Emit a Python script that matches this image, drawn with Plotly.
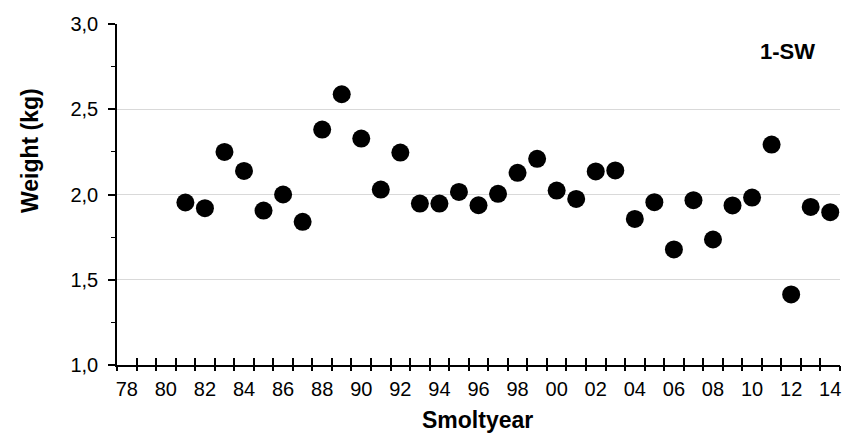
import plotly.graph_objects as go

years = list(range(1981, 2015))
weights = [1.953, 1.92, 2.25, 2.138, 1.906, 2.00, 1.84, 2.381, 2.588, 2.328, 2.029, 2.246,
           1.947, 1.947, 2.015, 1.937, 2.004, 2.127, 2.209, 2.023, 1.974, 2.135, 2.141,
           1.857, 1.955, 1.678, 1.967, 1.736, 1.936, 1.982, 2.293, 1.414, 1.927, 1.896]
label_years = list(range(1978, 2015, 2))
label_text = ["%02d" % (y % 100) for y in label_years]
boundaries = [y - 0.5 for y in range(1978, 2016)]

FONT = "Liberation Sans, Arial, sans-serif"
xr = [1977.5, 2014.5]

fig = go.Figure()
fig.add_trace(go.Scatter(x=years, y=weights, mode="markers",
                         marker=dict(color="black", size=18, line=dict(width=0)),
                         showlegend=False, hoverinfo="x+y"))
fig.add_trace(go.Scatter(x=[None], y=[None], xaxis="x2", yaxis="y", showlegend=False))
fig.add_trace(go.Scatter(x=[None], y=[None], xaxis="x3", yaxis="y", showlegend=False))

# page body has an 8px default margin, so the figure is 8px smaller than the window
fig.update_layout(
    width=843, height=425,
    margin=dict(l=109, r=11, t=16, b=68, autoexpand=False),
    paper_bgcolor="white", plot_bgcolor="white",
    separators=",.",
    font=dict(family=FONT, size=20, color="black"),
    xaxis=dict(range=xr, tickmode="array", tickvals=label_years, ticktext=label_text,
               ticks="", showgrid=False, zeroline=False, showline=True,
               linecolor="black", linewidth=2, ticklabelstandoff=5,
               tickfont=dict(size=20, family=FONT)),
    xaxis2=dict(range=xr, overlaying="x", anchor="y", side="bottom",
                tickmode="array", tickvals=boundaries, ticks="outside", ticklen=5,
                tickwidth=1.5, tickcolor="black", showticklabels=False,
                showgrid=False, zeroline=False, showline=False),
    xaxis3=dict(range=xr, overlaying="x", anchor="y", side="bottom",
                tickmode="array", tickvals=boundaries, ticks="inside", ticklen=7,
                tickwidth=1.5, tickcolor="black", showticklabels=False,
                showgrid=False, zeroline=False, showline=False),
    yaxis=dict(range=[1, 3], tick0=1, dtick=0.5, tickformat=".1f",
               ticks="outside", ticklen=7, tickwidth=1.5, tickcolor="black",
               showgrid=True, gridcolor="#d9d9d9", gridwidth=1, zeroline=False,
               showline=True, linecolor="black", linewidth=1.5,
               ticklabelstandoff=6,
               minor=dict(dtick=0.25, ticks="outside", ticklen=4, tickwidth=1.2,
                          tickcolor="black", showgrid=False),
               tickfont=dict(size=20, family=FONT)),
    annotations=[
        dict(text="<b>1-SW</b>", xref="paper", yref="paper", x=0.927, y=0.918,
             xanchor="center", yanchor="middle", showarrow=False,
             font=dict(size=22, family=FONT, color="black")),
        dict(text="<b>Weight (kg)</b>", xref="paper", yref="paper", x=-0.120, y=0.628,
             xanchor="center", yanchor="middle", showarrow=False, textangle=-90,
             font=dict(size=23, family=FONT, color="black")),
        dict(text="<b>Smoltyear</b>", xref="paper", yref="paper", x=0.4986, y=-0.16,
             xanchor="center", yanchor="middle", showarrow=False,
             font=dict(size=23, family=FONT, color="black")),
    ],
)

fig.write_html("out.html")
